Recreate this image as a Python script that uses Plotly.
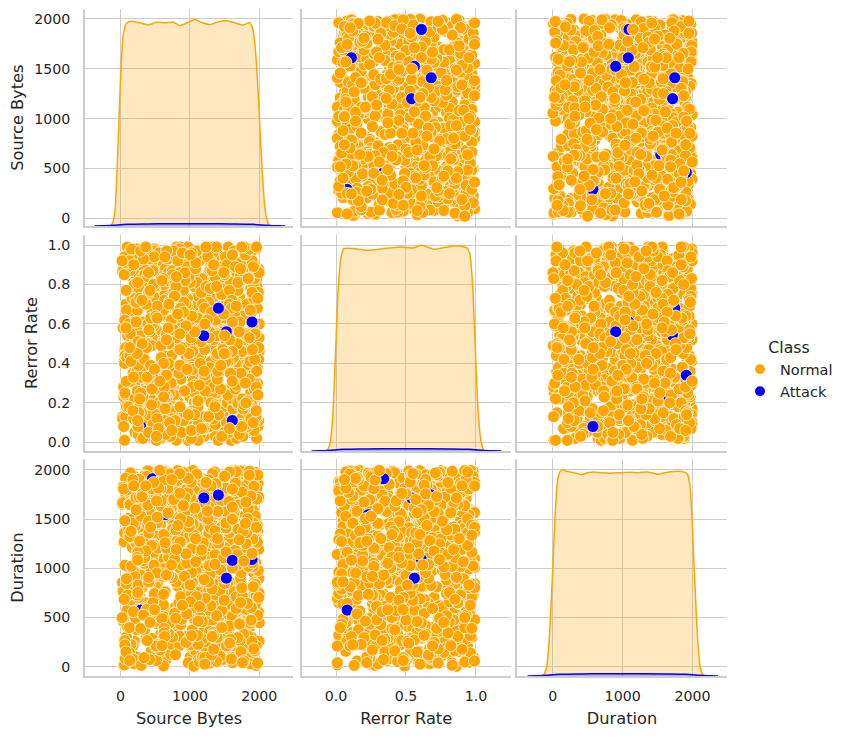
import plotly.graph_objects as go

# Normal traffic (one value per record, same order in every list)
normal_source_bytes = [
    1523, 87, 934, 1788, 412, 1265, 655, 1942, 301, 1107, 768, 1456, 49, 1834, 590, 1213, 1670, 236, 989, 1399,
    145, 1711, 822, 1067, 1980, 377, 1548, 703, 1289, 26, 1625, 958, 463, 1872, 1184, 612, 1437, 198, 1009, 1756,
    1340, 532, 1901, 274, 847, 1592, 1121, 68, 1688, 389, 1476, 925, 1813, 167, 740, 1263, 1955, 487, 1030, 639,
    1999, 313, 1174, 786, 1512, 94, 1639, 1088, 437, 1868, 572, 1351, 221, 1746, 958, 1425, 681, 1923, 128, 1207,
    874, 1582, 355, 1094, 1827, 509, 1316, 42, 1659, 760, 1471, 1033, 1915, 288, 1238, 617, 1789, 179, 1390, 943,
    1137, 1956, 451, 1706, 826, 1298, 63, 1555, 984, 1832, 370, 1444, 715, 1672, 247, 1061, 1888, 533, 1329, 110,
    1617, 694, 1418, 1974, 156, 1149, 869, 1733, 422, 1275, 1502, 35, 1846, 597, 1016, 1396, 756, 1927, 330, 1193,
    485, 1781, 1057, 212, 1364, 1890, 641, 1519, 918, 1650, 79, 1226, 804, 1997, 398, 1480, 1110, 267, 1715, 579,
    1258, 1009, 1862, 133, 1573, 721, 1304, 1938, 466, 1083, 1689, 345, 1411, 871, 1766, 56, 1245, 629, 1531, 998,
    1820, 190, 1372, 901, 1604, 517, 1161, 1983, 728, 1455, 256, 1697, 1041, 1875, 408, 1324, 662, 1549, 101, 1222,
    773, 1635, 317, 1489, 1941, 563, 1102, 1747, 29, 1387, 836, 1591, 1217, 441, 1908, 690, 1336, 1074, 1806, 234,
    1463, 1165, 612, 1853, 372, 1536, 952, 1270, 1720, 83, 1429, 1048, 1962, 539, 1196, 785, 1644, 305, 1381, 1801,
    58, 1307, 1725, 894, 1585, 227, 1045, 1906, 474, 1353, 1680, 616, 1128, 1837, 165, 1498, 962, 1231, 1769, 403,
    1580, 818, 1991, 1144, 349, 1617, 1001, 1441, 120, 1764, 708, 1279, 1878, 543, 1066, 1530, 284, 1404, 876, 1948,
    961, 1405, 207, 1662, 1081, 1839, 498, 1343, 759, 1964, 1188, 72, 1571, 920, 1714, 367, 1253, 1626, 642, 1120,
    1738, 433, 1285, 1016, 1896, 611, 1463, 179, 1602, 848, 1359, 1977, 1096, 391, 1692, 727, 1508, 25, 1271, 1853,
    655, 1525, 1170, 1944, 266, 1399, 793, 1701, 1030, 1846, 455, 1216, 1614, 143, 1478, 910, 1795, 578, 1332, 1063,
    1877, 1092, 345, 1547, 734, 1281, 1913, 511, 1661, 97, 1368, 962, 1789, 1203, 643, 1567, 281, 1942, 1006, 1427,
    314, 1778, 880, 1241, 1605, 46, 1451, 1129, 1991, 587, 1324, 763, 1866, 425, 1052, 1693, 203, 1519, 1157, 836,
    1409, 657, 1930, 197, 1150, 1747, 902, 1477, 335, 1820, 1023, 620, 1552, 1246, 1959, 78, 1391, 794, 1683, 468,
    1000, 1851, 539, 1294, 1715, 112, 1615, 975, 1362, 706, 1903, 270, 1195, 1539, 847, 1775, 450, 1088, 1988, 1270,
    614, 1438, 1061, 1822, 229, 1567, 882, 1349, 1934, 495, 1735, 1173, 37, 1485, 769, 1619, 1027, 1889, 358, 1225,
    1645, 960, 1373, 185, 1798, 672, 1506, 1111, 1870, 402, 1287, 1689, 839, 1957, 531, 1330, 149, 1756, 1004, 1582,
    233, 1697, 1138, 719, 1467, 1992, 377, 1255, 811, 1638, 66, 1413, 1846, 979, 1193, 620, 1543, 1778, 290, 1085,
    1932, 516, 1218, 1584, 846, 1402, 1050, 1761, 253, 1630, 1911, 731, 1336, 95, 1469, 1148, 690, 1866, 1002, 424,
    1272, 1804, 128, 1528, 953, 1683, 597, 1345, 1985, 382, 1117, 1772, 826, 1452, 215, 1601, 1040, 1928, 660, 1398,
    751, 1169, 1925, 482, 1313, 1748, 60, 1581, 1087, 866, 1660, 302, 1449, 1970, 748, 1234, 1814, 554, 1510, 176,
    1587, 367, 1743, 1021, 1438, 619, 1906, 1175, 216, 1545, 940, 1700, 1283, 44, 1819, 681, 1363, 1101, 1953, 519,
    1121, 1896, 707, 1393, 140, 1691, 1016, 1499, 1839, 425, 1244, 866, 1605, 1931, 313, 1165, 1560, 792, 1727, 61,
    1449, 596, 1283, 1945, 1039, 253, 1616, 868, 1787, 1190, 452, 1354, 1976, 690, 1543, 1057, 1880, 163, 1304, 905,
    1665, 1230, 415, 1818, 971, 1499, 1963, 319, 1117, 762, 1605, 1380, 85, 1724, 1009, 603, 1459, 1857, 242, 1180,
    852, 1550, 1996, 1078, 460, 1737, 1295, 143, 1648, 910, 1860, 563, 1409, 1211, 1913, 355, 1596, 733, 1027, 1775,
    372, 1104, 1689, 823, 1957, 58, 1432, 617, 1270, 1815, 204, 990, 1546, 451, 1733, 1162, 695, 1382, 1890, 117,
    1498, 769, 1226, 1961, 340, 1607, 887, 1045, 1773, 529, 1318, 72, 1654, 1137, 423, 1841, 964, 1283, 602, 1568,
    183, 1721, 940, 1395, 656, 1884, 1212, 297, 1519, 803, 1947, 1068, 483, 1626, 1341, 35, 1758, 704, 1180, 1432,
    1035, 1605, 254, 1799, 1149, 571, 1360, 1923, 778, 1476, 126, 1689, 1008, 1235, 389, 1858, 616, 1527, 1972, 845,
    1683, 412, 1107, 1870, 721, 1289, 1548, 93, 1413, 967, 1736, 327, 1194, 1996, 553, 1342, 829, 1611, 240, 1451,
    667, 1940, 1320, 186, 1565, 1025, 1779, 449, 1220, 1692, 880, 1371, 62, 1534, 1115, 1905, 302, 744, 1258, 1827,
    1384, 519, 1648, 1093, 1933, 262, 845, 1487, 1761, 628, 1162, 1979, 419, 1046, 1596, 785, 1843, 153, 1304, 974,
    1806, 1212, 736, 1440, 44, 1719, 1363, 908, 1584, 371, 1268, 1819, 1005, 580, 1485, 1147, 268, 1669, 1920, 693,
    215, 1518, 1879, 627, 1278, 1020, 1667, 1395, 136, 1758, 861, 1522, 1230, 1954, 475, 1096, 1713, 348, 1401, 1108,
    1611, 903, 1178, 1746, 483, 1991, 611, 1309, 1066, 1839, 1444, 222, 1572, 763, 1912, 1251, 1027, 1655, 89, 1360,
    944, 1767, 392, 1203, 1612, 824, 1458, 1900, 267, 1137, 1711, 560, 1340, 1025, 1827, 679, 1493, 1167, 1959, 418,
    279, 105, 535, 1856, 955, 392, 710, 664, 1214, 465, 987, 82, 619, 343, 263, 1776, 872, 486, 640, 701,
    522, 436, 1024, 692, 928, 319, 251, 1569, 793, 842, 156, 407, 176, 1730, 982, 528, 321, 1895, 728, 83,
    747, 185, 911, 447, 336, 1612, 60, 242, 783, 1499, 634, 277, 855, 930, 404, 119, 638, 1116, 818, 584,
    77, 654, 582, 466, 1798, 873, 921, 127, 585, 366, 292, 1746, 1015, 527, 798, 958, 507, 375, 613, 250,
    451, 776, 330, 1069, 706, 247, 133, 864, 515, 944, 188, 660, 404, 1807, 290, 661, 976, 51, 432, 733,
    890, 310, 856, 1975, 528, 628, 402, 149, 764, 21, 546, 239, 696, 382, 853, 1081, 620, 905, 245, 475,
    621, 596, 224, 738, 1083, 489, 308, 640, 362, 921, 824, 130, 517, 804, 565, 423, 685, 1002, 854, 274,
]
normal_rerror_rate = [
    0.72, 0.15, 0.48, 0.91, 0.33, 0.06, 0.64, 0.27, 0.85, 0.52, 0.19, 0.97, 0.41, 0.68, 0.02, 0.79, 0.36, 0.58, 0.11, 0.88,
    0.45, 0.93, 0.21, 0.67, 0.08, 0.54, 0.82, 0.30, 0.99, 0.13, 0.61, 0.39, 0.76, 0.25, 0.95, 0.50, 0.04, 0.71, 0.43, 0.86,
    0.17, 0.63, 0.89, 0.35, 0.57, 0.01, 0.78, 0.46, 0.23, 0.94, 0.69, 0.10, 0.53, 0.84, 0.29, 0.66, 0.42, 0.98, 0.07, 0.75,
    0.60, 0.26, 0.81, 0.12, 0.47, 0.92, 0.38, 0.70, 0.05, 0.56, 0.87, 0.32, 0.65, 0.18, 0.96, 0.44, 0.73, 0.22, 0.59, 0.03,
    0.83, 0.49, 0.14, 0.77, 0.37, 0.62, 0.90, 0.28, 0.51, 0.09, 0.74, 0.40, 0.97, 0.20, 0.66, 0.55, 0.31, 0.86, 0.16, 0.44,
    0.34, 0.98, 0.58, 0.07, 0.71, 0.25, 0.85, 0.47, 0.12, 0.63, 0.93, 0.36, 0.80, 0.02, 0.53, 0.69, 0.19, 0.91, 0.41, 0.77,
    0.09, 0.55, 0.87, 0.30, 0.64, 0.95, 0.15, 0.42, 0.76, 0.24, 0.59, 0.88, 0.05, 0.50, 0.33, 0.72, 0.97, 0.27, 0.61, 0.13,
    0.67, 0.21, 0.79, 0.44, 0.03, 0.90, 0.52, 0.38, 0.83, 0.17, 0.70, 0.29, 0.99, 0.46, 0.10, 0.62, 0.84, 0.35, 0.74, 0.56,
    0.92, 0.40, 0.06, 0.65, 0.27, 0.81, 0.48, 0.14, 0.96, 0.58, 0.32, 0.73, 0.20, 0.89, 0.43, 0.01, 0.68, 0.37, 0.85, 0.23,
    0.51, 0.78, 0.31, 0.94, 0.11, 0.57, 0.39, 0.75, 0.22, 0.66, 0.04, 0.86, 0.47, 0.61, 0.16, 0.93, 0.28, 0.80, 0.54, 0.08,
    0.26, 0.70, 0.45, 0.18, 0.88, 0.34, 0.63, 0.99, 0.12, 0.49, 0.77, 0.41, 0.07, 0.95, 0.59, 0.24, 0.82, 0.36, 0.69, 0.97,
    0.63, 0.10, 0.91, 0.53, 0.29, 0.74, 0.02, 0.86, 0.44, 0.67, 0.19, 0.57, 0.83, 0.33, 0.96, 0.48, 0.14, 0.71, 0.25, 0.90,
    0.40, 0.84, 0.17, 0.60, 0.95, 0.37, 0.52, 0.09, 0.78, 0.30, 0.88, 0.65, 0.23, 0.47, 0.73, 0.05, 0.99, 0.55, 0.35, 0.80,
    0.14, 0.58, 0.76, 0.27, 0.50, 0.89, 0.43, 0.68, 0.16, 0.93, 0.62, 0.08, 0.85, 0.39, 0.21, 0.72, 0.54, 0.31, 0.97, 0.46,
    0.87, 0.33, 0.05, 0.70, 0.42, 0.19, 0.94, 0.61, 0.28, 0.79, 0.51, 0.13, 0.66, 0.98, 0.37, 0.84, 0.26, 0.57, 0.03, 0.74,
    0.56, 0.22, 0.83, 0.47, 0.71, 0.04, 0.64, 0.35, 0.91, 0.18, 0.45, 0.76, 0.29, 0.60, 0.96, 0.11, 0.52, 0.87, 0.40, 0.67,
    0.31, 0.96, 0.62, 0.12, 0.85, 0.55, 0.24, 0.78, 0.43, 0.07, 0.92, 0.34, 0.69, 0.50, 0.15, 0.81, 0.38, 0.64, 0.99, 0.20,
    0.78, 0.45, 0.27, 0.93, 0.16, 0.61, 0.86, 0.32, 0.54, 0.97, 0.09, 0.73, 0.41, 0.26, 0.88, 0.58, 0.02, 0.69, 0.35, 0.82,
    0.03, 0.68, 0.90, 0.39, 0.59, 0.23, 0.75, 0.48, 0.11, 0.84, 0.36, 0.63, 0.95, 0.19, 0.52, 0.70, 0.30, 0.87, 0.44, 0.14,
    0.95, 0.29, 0.53, 0.80, 0.07, 0.46, 0.71, 0.18, 0.89, 0.40, 0.65, 0.25, 0.99, 0.56, 0.12, 0.77, 0.42, 0.06, 0.61, 0.34,
    0.49, 0.86, 0.13, 0.67, 0.37, 0.92, 0.57, 0.01, 0.74, 0.28, 0.83, 0.45, 0.60, 0.20, 0.94, 0.39, 0.72, 0.15, 0.88, 0.53,
    0.22, 0.62, 0.79, 0.34, 0.98, 0.10, 0.48, 0.85, 0.30, 0.69, 0.05, 0.58, 0.91, 0.43, 0.76, 0.17, 0.64, 0.97, 0.26, 0.50,
    0.71, 0.08, 0.44, 0.93, 0.55, 0.27, 0.81, 0.38, 0.65, 0.14, 0.87, 0.51, 0.02, 0.73, 0.32, 0.96, 0.46, 0.21, 0.59, 0.84,
    0.36, 0.77, 0.59, 0.16, 0.89, 0.42, 0.03, 0.70, 0.53, 0.97, 0.24, 0.64, 0.39, 0.82, 0.11, 0.49, 0.92, 0.31, 0.75, 0.07,
    0.90, 0.50, 0.23, 0.72, 0.09, 0.66, 0.35, 0.95, 0.18, 0.57, 0.80, 0.29, 0.47, 0.99, 0.63, 0.04, 0.86, 0.41, 0.15, 0.68,
    0.57, 0.14, 0.96, 0.40, 0.63, 0.85, 0.20, 0.52, 0.76, 0.33, 0.01, 0.90, 0.61, 0.27, 0.73, 0.45, 0.10, 0.83, 0.55, 0.37,
    0.12, 0.83, 0.35, 0.59, 0.24, 0.98, 0.47, 0.69, 0.06, 0.91, 0.40, 0.15, 0.78, 0.54, 0.87, 0.30, 0.65, 0.20, 0.94, 0.49,
    0.81, 0.37, 0.68, 0.02, 0.75, 0.51, 0.88, 0.26, 0.43, 0.64, 0.97, 0.19, 0.56, 0.08, 0.70, 0.93, 0.34, 0.60, 0.13, 0.79,
    0.44, 0.92, 0.07, 0.54, 0.31, 0.77, 0.14, 0.85, 0.62, 0.38, 0.71, 0.99, 0.22, 0.48, 0.82, 0.58, 0.05, 0.67, 0.91, 0.25,
    0.66, 0.19, 0.74, 0.88, 0.46, 0.04, 0.59, 0.32, 0.95, 0.13, 0.53, 0.80, 0.37, 0.69, 0.24, 0.86, 0.50, 0.97, 0.41, 0.11,
    0.28, 0.73, 0.50, 0.15, 0.99, 0.63, 0.36, 0.79, 0.09, 0.57, 0.90, 0.44, 0.18, 0.84, 0.61, 0.03, 0.75, 0.32, 0.67, 0.93,
    0.98, 0.41, 0.86, 0.25, 0.60, 0.12, 0.92, 0.55, 0.35, 0.78, 0.16, 0.70, 0.01, 0.47, 0.89, 0.26, 0.64, 0.83, 0.06, 0.52,
    0.37, 0.81, 0.05, 0.62, 0.28, 0.94, 0.46, 0.13, 0.71, 0.55, 0.22, 0.88, 0.40, 0.67, 0.09, 0.76, 0.33, 0.99, 0.51, 0.18,
    0.85, 0.24, 0.59, 0.02, 0.73, 0.42, 0.96, 0.31, 0.64, 0.11, 0.80, 0.48, 0.27, 0.92, 0.56, 0.15, 0.69, 0.38, 0.04, 0.77,
    0.61, 0.08, 0.90, 0.45, 0.19, 0.66, 0.34, 0.83, 0.52, 0.01, 0.74, 0.29, 0.97, 0.43, 0.12, 0.58, 0.87, 0.25, 0.70, 0.36,
    0.16, 0.72, 0.39, 0.95, 0.57, 0.26, 0.84, 0.06, 0.63, 0.47, 0.91, 0.20, 0.54, 0.79, 0.32, 0.98, 0.44, 0.10, 0.68, 0.86,
    0.50, 0.93, 0.21, 0.67, 0.03, 0.78, 0.41, 0.60, 0.14, 0.89, 0.35, 0.71, 0.07, 0.53, 0.96, 0.28, 0.82, 0.46, 0.17, 0.65,
    0.23, 0.55, 0.87, 0.12, 0.70, 0.38, 0.99, 0.49, 0.26, 0.81, 0.05, 0.62, 0.44, 0.90, 0.18, 0.75, 0.33, 0.59, 0.94, 0.08,
    0.79, 0.30, 0.64, 0.97, 0.42, 0.15, 0.58, 0.86, 0.03, 0.72, 0.51, 0.24, 0.93, 0.37, 0.68, 0.11, 0.83, 0.47, 0.20, 0.56,
    0.09, 0.68, 0.44, 0.27, 0.88, 0.61, 0.19, 0.76, 0.35, 0.98, 0.13, 0.54, 0.81, 0.02, 0.65, 0.40, 0.92, 0.29, 0.73, 0.50,
    0.95, 0.41, 0.12, 0.80, 0.53, 0.06, 0.69, 0.32, 0.87, 0.22, 0.60, 0.45, 0.99, 0.16, 0.74, 0.57, 0.04, 0.85, 0.36, 0.63,
    0.31, 0.77, 0.58, 0.08, 0.94, 0.48, 0.25, 0.66, 0.14, 0.83, 0.39, 0.71, 0.52, 0.97, 0.10, 0.62, 0.28, 0.89, 0.43, 0.18,
    0.70, 0.17, 0.84, 0.36, 0.61, 0.92, 0.03, 0.47, 0.78, 0.29, 0.56, 0.13, 0.90, 0.64, 0.21, 0.82, 0.45, 0.07, 0.99, 0.34,
    0.46, 0.89, 0.27, 0.53, 0.15, 0.75, 0.38, 0.97, 0.60, 0.09, 0.84, 0.31, 0.67, 0.42, 0.93, 0.19, 0.58, 0.79, 0.24, 0.71,
    0.14, 0.63, 0.96, 0.40, 0.82, 0.23, 0.51, 0.07, 0.74, 0.35, 0.98, 0.57, 0.16, 0.88, 0.45, 0.69, 0.02, 0.76, 0.30, 0.91,
    0.85, 0.33, 0.71, 0.19, 0.48, 0.95, 0.62, 0.26, 0.80, 0.54, 0.11, 0.73, 0.39, 0.86, 0.05, 0.60, 0.94, 0.21, 0.67, 0.42,
    0.58, 0.04, 0.49, 0.87, 0.30, 0.66, 0.15, 0.92, 0.43, 0.70, 0.25, 0.99, 0.53, 0.12, 0.79, 0.37, 0.64, 0.48, 0.83, 0.08,
    0.27, 0.74, 0.93, 0.56, 0.10, 0.81, 0.44, 0.68, 0.01, 0.59, 0.90, 0.34, 0.76, 0.20, 0.97, 0.52, 0.14, 0.85, 0.39, 0.62,
    0.96, 0.50, 0.18, 0.73, 0.63, 0.28, 0.86, 0.41, 0.57, 0.92, 0.07, 0.45, 0.70, 0.33, 0.55, 0.88, 0.23, 0.66, 0.11, 0.80,
    0.40, 0.82, 0.61, 0.06, 0.91, 0.37, 0.72, 0.17, 0.99, 0.26, 0.65, 0.48, 0.03, 0.84, 0.31, 0.77, 0.58, 0.95, 0.47, 0.22,
]
normal_duration = [
    612, 1845, 233, 1377, 958, 1702, 71, 1490, 1126, 402, 1936, 745, 1268, 1581, 319, 1055, 1779, 538, 1412, 886,
    1690, 117, 1025, 1533, 687, 1966, 348, 1209, 801, 1651, 466, 1873, 1092, 25, 1350, 932, 1729, 259, 1505, 1165,
    1321, 842, 1589, 390, 1907, 1140, 608, 1767, 193, 1419, 977, 1624, 512, 1210, 1853, 38, 1474, 726, 1297, 1991,
    447, 1556, 1088, 1797, 281, 1348, 853, 1635, 1002, 1923, 150, 1186, 674, 1520, 1842, 397, 1063, 1408, 765, 1710,
    1925, 1269, 529, 1071, 1671, 812, 1463, 12, 1392, 1105, 1857, 361, 1587, 930, 1226, 623, 1960, 214, 1338, 1044,
    737, 1399, 1974, 187, 1245, 1598, 488, 1022, 1765, 666, 1311, 58, 1546, 1880, 832, 1183, 1696, 435, 1004, 1507,
    1231, 573, 1756, 1432, 905, 44, 1611, 1286, 1948, 376, 1130, 789, 1484, 1819, 255, 1678, 1034, 595, 1369, 1907,
    84, 1626, 948, 1262, 1814, 506, 1525, 1169, 730, 1993, 1380, 283, 1083, 1712, 639, 1450, 885, 1860, 1197, 330,
    1543, 1029, 1883, 677, 1331, 125, 1786, 917, 1414, 1655, 454, 1256, 1932, 813, 1608, 18, 1148, 1733, 554, 1291,
    1047, 1938, 372, 1609, 774, 1440, 1193, 1859, 227, 1022, 1567, 645, 1802, 1351, 472, 1724, 969, 1276, 101, 1615,
    1799, 704, 1304, 1056, 1532, 260, 1880, 842, 1666, 1402, 590, 1987, 1117, 163, 1462, 919, 1758, 412, 1223, 1573,
    529, 1441, 1813, 144, 1090, 1691, 962, 1358, 1951, 302, 1631, 770, 1285, 1086, 1839, 604, 1494, 54, 1733, 1192,
    1370, 882, 1567, 1921, 419, 1251, 736, 1708, 1143, 1980, 224, 1525, 989, 1806, 1319, 651, 1097, 1662, 343, 1902,
    1985, 320, 1193, 841, 1620, 1476, 98, 1854, 1013, 576, 1346, 1720, 476, 1930, 1240, 811, 1599, 188, 1440, 1057,
    818, 1701, 1424, 607, 1971, 1144, 1588, 290, 1279, 1812, 933, 1478, 67, 1379, 1749, 545, 1111, 1962, 762, 1547,
    1121, 1586, 36, 1350, 1759, 917, 1234, 1902, 461, 1060, 1694, 1385, 783, 1991, 294, 1517, 1205, 855, 1626, 374,
    1598, 425, 1887, 1246, 736, 1544, 1812, 1036, 190, 1714, 1345, 910, 1599, 572, 1166, 1916, 81, 1451, 1024, 1788,
    281, 1360, 1050, 1708, 1497, 629, 961, 1271, 1927, 830, 1553, 1166, 390, 1747, 1021, 1627, 708, 1350, 1941, 526,
    1867, 1169, 728, 1531, 158, 1846, 1415, 551, 1725, 1089, 1962, 327, 1257, 857, 1643, 1402, 29, 1815, 1216, 922,
    661, 1966, 1277, 390, 1656, 1076, 1793, 825, 1490, 212, 1333, 1738, 1007, 1552, 595, 1889, 1228, 473, 1685, 1118,
    1490, 375, 1678, 186, 979, 496, 1404, 40, 619, 1306, 743, 1867, 46, 1500, 216, 287, 1717, 969, 554, 1899,
    995, 520, 192, 1832, 99, 1362, 674, 624, 1939, 205, 422, 1592, 764, 879, 410, 1073, 1950, 300, 648, 748,
    1751, 310, 329, 970, 583, 1796, 727, 444, 110, 1895, 152, 587, 650, 1316, 728, 520, 224, 1964, 835, 474,
    375, 1644, 876, 547, 218, 894, 1698, 399, 1905, 761, 82, 1571, 271, 780, 1257, 7, 538, 644, 1875, 156,
    1319, 63, 493, 1937, 310, 643, 1128, 800, 521, 1789, 1006, 433, 956, 1367, 75, 695, 920, 443, 221, 1806,
    776, 583, 140, 1405, 682, 161, 1889, 265, 978, 602, 694, 1323, 817, 179, 491, 563, 1994, 855, 387, 238,
    536, 887, 612, 1031, 431, 784, 264, 1955, 396, 713, 488, 58, 1125, 663, 299, 870, 1847, 460, 647, 76,
    640, 291, 825, 742, 104, 509, 1925, 175, 713, 398, 839, 985, 573, 456, 224, 1791, 360, 689, 12, 460,
    68, 718, 445, 298, 1970, 144, 580, 596, 312, 1863, 200, 476, 95, 752, 806, 357, 636, 120, 897, 221,
    898, 488, 359, 638, 857, 788, 41, 429, 994, 646, 285, 731, 521, 338, 851, 3, 473, 776, 619, 960,
    709, 1505, 1889, 1138, 1566, 403, 1703, 1267, 1927, 890, 1439, 52, 1794, 1080, 1670, 1348, 571, 1899, 1173, 282,
    1444, 1100, 258, 1659, 1824, 957, 1412, 674, 1577, 1973, 1211, 1732, 840, 1532, 1018, 1882, 416, 1318, 1633, 1990,
    1712, 455, 1038, 1893, 207, 1361, 772, 1560, 66, 1207, 915, 1745, 384, 1479, 1988, 599, 1130, 1842, 258, 1395,
    846, 1627, 134, 1289, 1940, 511, 1074, 1702, 331, 1461, 789, 1915, 1182, 47, 1560, 687, 1310, 1852, 943, 412,
    1505, 263, 1796, 985, 1236, 601, 1669, 14, 1412, 859, 1975, 476, 1163, 1603, 348, 1823, 712, 1285, 97, 1049,
    374, 1951, 703, 1542, 1117, 168, 1380, 1834, 541, 1008, 1655, 296, 1724, 882, 1447, 1987, 629, 210, 1265, 1587,
    1139, 612, 1414, 29, 1873, 937, 1621, 408, 1255, 1770, 153, 1079, 1528, 747, 1995, 322, 1340, 1003, 566, 1691,
    1966, 837, 307, 1458, 1679, 1210, 58, 1792, 694, 1396, 481, 1860, 1031, 1575, 226, 1297, 1744, 906, 1502, 643,
    518, 1326, 1902, 711, 160, 1580, 1244, 901, 1767, 389, 1128, 1948, 601, 1450, 78, 1703, 1019, 1373, 1837, 270,
    1253, 93, 1562, 1018, 1805, 446, 1137, 1671, 277, 1934, 861, 1362, 659, 1808, 1104, 501, 1636, 1981, 181, 928,
    801, 1460, 1735, 343, 1027, 1896, 591, 1302, 1647, 41, 1486, 1165, 1872, 724, 1247, 1956, 433, 1109, 1578, 317,
    1623, 1016, 458, 1776, 1234, 704, 1930, 118, 1335, 1604, 983, 1720, 239, 1438, 813, 1582, 1198, 1865, 569, 1040,
    246, 1378, 1669, 885, 1498, 1993, 397, 1055, 1723, 612, 1290, 1880, 176, 957, 1504, 1813, 674, 1186, 1416, 72,
    1559, 728, 1205, 1947, 536, 1643, 1090, 1336, 25, 1772, 1421, 845, 1628, 373, 1905, 1073, 1261, 742, 1697, 1969,
    952, 1846, 316, 1114, 1565, 1297, 829, 1979, 491, 1682, 1022, 1359, 1901, 651, 1474, 211, 1786, 1151, 1607, 894,
    1396, 559, 1690, 1232, 91, 1805, 1484, 728, 1143, 1935, 306, 1561, 1002, 1715, 861, 1344, 1978, 463, 1281, 1632,
    150, 1273, 1811, 649, 1456, 1037, 1924, 396, 1687, 1176, 1529, 801, 1875, 223, 1392, 1050, 1757, 580, 1986, 1161,
    1809, 1089, 524, 1610, 1958, 754, 1323, 1504, 209, 1147, 1838, 932, 1478, 1673, 389, 1205, 1914, 684, 1419, 1034,
    624, 1754, 1267, 37, 1520, 1898, 907, 1375, 1699, 498, 1816, 1110, 1577, 265, 1962, 1302, 735, 1637, 1083, 1872,
    1343, 213, 1594, 1902, 1066, 578, 1729, 1259, 1837, 917, 1435, 62, 1685, 1191, 1995, 449, 1564, 830, 1763, 1275,
]

# Attack traffic
attack_source_bytes = [1410, 1525, 1895, 460, 640, 1200, 290, 1610]
attack_rerror_rate = [0.68, 0.56, 0.61, 0.34, 0.23, 0.54, 0.08, 0.11]
attack_duration = [1745, 900, 1090, 1910, 1545, 1715, 575, 1080]

# Density curves on the diagonal (height relative to the Normal peak)
sb_kde_x = [-140, -110, -80, -50, -20, 10, 40, 80, 135, 270, 400, 520, 640, 760, 855, 960, 1070, 1180,
            1290, 1410, 1530, 1650, 1770, 1855, 1900, 1930, 1960, 1990, 2020, 2050, 2080, 2110, 2145]
sb_kde_y = [0, 0.02, 0.08, 0.28, 0.55, 0.8, 0.93, 0.98, 0.992, 0.985, 0.974, 0.987, 0.985, 0.987, 0.971,
            0.985, 1.0, 0.985, 0.976, 0.99, 0.995, 0.985, 0.974, 0.985, 0.96, 0.9, 0.78, 0.6, 0.4, 0.22,
            0.09, 0.03, 0]
err_kde_x = [-0.065, -0.045, -0.025, -0.005, 0.015, 0.035, 0.055, 0.124, 0.23, 0.34, 0.48, 0.55, 0.61,
             0.697, 0.78, 0.864, 0.936, 0.955, 0.975, 0.995, 1.015, 1.035, 1.055]
err_kde_y = [0, 0.03, 0.15, 0.45, 0.78, 0.94, 0.984, 0.984, 0.976, 0.984, 0.992, 0.987, 1.0, 0.981, 0.99,
             0.998, 0.987, 0.96, 0.82, 0.5, 0.2, 0.05, 0]
dur_kde_x = [-150, -120, -90, -60, -30, 0, 30, 60, 90, 130, 200, 300, 416, 500, 584, 700, 823, 950, 1110,
             1230, 1349, 1450, 1517, 1600, 1684, 1800, 1880, 1923, 1960, 1990, 2020, 2050, 2080, 2110, 2140, 2170]
dur_kde_y = [0, 0.01, 0.04, 0.13, 0.30, 0.52, 0.75, 0.92, 0.98, 1.0, 0.992, 0.985, 0.976, 0.985, 0.989,
             0.985, 0.983, 0.985, 0.987, 0.985, 0.989, 0.982, 0.977, 0.985, 0.99, 0.992, 0.988, 0.98, 0.93,
             0.78, 0.55, 0.32, 0.14, 0.04, 0.01, 0]

sb_att_kde_x = [-380, -250, -100, 100, 400, 700, 1000, 1300, 1600, 1900, 2100, 2250, 2370]
err_att_kde_x = [-0.175, -0.11, -0.04, 0.05, 0.2, 0.35, 0.5, 0.65, 0.8, 0.95, 1.04, 1.11, 1.18]
dur_att_kde_x = [-360, -230, -90, 100, 400, 700, 1000, 1300, 1600, 1900, 2100, 2250, 2365]
att_kde_y = [0, 0.001, 0.004, 0.008, 0.010, 0.011, 0.011, 0.011, 0.010, 0.008, 0.004, 0.001, 0]

variables = ["Source Bytes", "Rerror Rate", "Duration"]
normal = [normal_source_bytes, normal_rerror_rate, normal_duration]
attack = [attack_source_bytes, attack_rerror_rate, attack_duration]
kde_normal = [(sb_kde_x, sb_kde_y), (err_kde_x, err_kde_y), (dur_kde_x, dur_kde_y)]
kde_attack = [(sb_att_kde_x, att_kde_y), (err_att_kde_x, att_kde_y), (dur_att_kde_x, att_kde_y)]

ORANGE = "#ffa500"
BLUE = "#0000ff"
GRID = "#cccccc"
TEXT = "#262626"
FONT = "DejaVu Sans"

W, H = 855, 738
col_px = [(85, 293.3), (301.7, 510.7), (517.3, 726.7)]
row_px = [(9.3, 226), (235, 451), (459.3, 676)]
x_ranges = [[-514, 2490], [-0.245, 1.248], [-507, 2488]]
y_ranges = [[-77, 2097], [-0.044, 1.051], [-95, 2108]]
dticks = [1000, 0.5, 1000]
y_dticks = [500, 0.2, 500]
formats = ["d", ".1f", "d"]

split = 850  # attack points sit among the normal ones in the drawing order


def ax_id(letter, k):
    return letter if k == 1 else "%s%d" % (letter, k)


def ax_key(letter, k):
    return "%saxis" % letter if k == 1 else "%saxis%d" % (letter, k)


fig = go.Figure()
layout = {}
for r in range(3):
    for c in range(3):
        k = r * 3 + c + 1
        xa, ya = ax_id("x", k), ax_id("y", k)
        layout[ax_key("x", k)] = dict(
            domain=[col_px[c][0] / W, col_px[c][1] / W], range=x_ranges[c], anchor=ya,
            dtick=dticks[c], tick0=0, tickformat=formats[c], showticklabels=(r == 2),
            title=dict(text=variables[c] if r == 2 else "", font=dict(size=16.2, color=TEXT), standoff=10),
            showgrid=True, gridcolor=GRID, gridwidth=1.3, zeroline=False,
            showline=True, linecolor=GRID, linewidth=1.8, ticks="", ticklabelstandoff=6,
            tickfont=dict(size=14.2, color=TEXT), automargin=False,
        )
        layout[ax_key("y", k)] = dict(
            domain=[1 - row_px[r][1] / H, 1 - row_px[r][0] / H], range=y_ranges[r], anchor=xa,
            dtick=y_dticks[r], tick0=0, tickformat=formats[r], showticklabels=(c == 0),
            title=dict(text=variables[r] if c == 0 else "", font=dict(size=16.2, color=TEXT), standoff=6),
            showgrid=True, gridcolor=GRID, gridwidth=1.3, zeroline=False,
            showline=True, linecolor=GRID, linewidth=1.8, ticks="", ticklabelstandoff=10,
            tickfont=dict(size=14.2, color=TEXT), automargin=False,
        )
        if r == c:
            ov = 10 + r
            layout[ax_key("y", ov)] = dict(overlaying=ya, anchor=xa, range=[0, 1.05], visible=False)
            # an empty trace keeps the row/column axes of the diagonal cell alive
            fig.add_trace(go.Scatter(x=[], y=[], xaxis=xa, yaxis=ya, mode="markers",
                                     showlegend=False, hoverinfo="skip"))
            kx, ky = kde_normal[c]
            fig.add_trace(go.Scatter(
                x=kx, y=ky, xaxis=xa, yaxis=ax_id("y", ov), mode="lines",
                line=dict(color=ORANGE, width=1.5, shape="spline", smoothing=0.6),
                fill="tozeroy", fillcolor="rgba(255,165,0,0.25)", showlegend=False, hoverinfo="skip"))
            bx, by = kde_attack[c]
            fig.add_trace(go.Scatter(
                x=bx, y=by, xaxis=xa, yaxis=ax_id("y", ov), mode="lines",
                line=dict(color=BLUE, width=1.5, shape="spline"),
                fill="tozeroy", fillcolor="rgba(0,0,255,0.25)", showlegend=False, hoverinfo="skip"))
        else:
            marker_n = dict(color=ORANGE, size=12, line=dict(color="white", width=0.8))
            marker_a = dict(color=BLUE, size=12, line=dict(color="white", width=0.8))
            first = (k == 2)
            fig.add_trace(go.Scatter(
                x=normal[c][:split], y=normal[r][:split], xaxis=xa, yaxis=ya, mode="markers",
                marker=marker_n, name="Normal", legendgroup="Normal", showlegend=first))
            fig.add_trace(go.Scatter(
                x=attack[c], y=attack[r], xaxis=xa, yaxis=ya, mode="markers",
                marker=marker_a, name="Attack", legendgroup="Attack", showlegend=first))
            fig.add_trace(go.Scatter(
                x=normal[c][split:], y=normal[r][split:], xaxis=xa, yaxis=ya, mode="markers",
                marker=marker_n, name="Normal", legendgroup="Normal", showlegend=False))

fig.update_layout(**layout)
fig.update_layout(
    width=W, height=H, margin=dict(l=0, r=0, t=0, b=0),
    paper_bgcolor="white", plot_bgcolor="white",
    font=dict(family=FONT, color=TEXT),
    legend=dict(
        x=740 / W, y=1 - 333 / H, xanchor="left", yanchor="top",
        title=dict(text="Class", font=dict(size=15.7, color=TEXT), side="top center"),
        font=dict(size=14.5, color=TEXT), bgcolor="rgba(0,0,0,0)", tracegroupgap=0,
        itemsizing="constant",
    ),
)
fig.write_html("out.html", config={"displayModeBar": False},
               post_script="document.body.style.margin = '0px';")
